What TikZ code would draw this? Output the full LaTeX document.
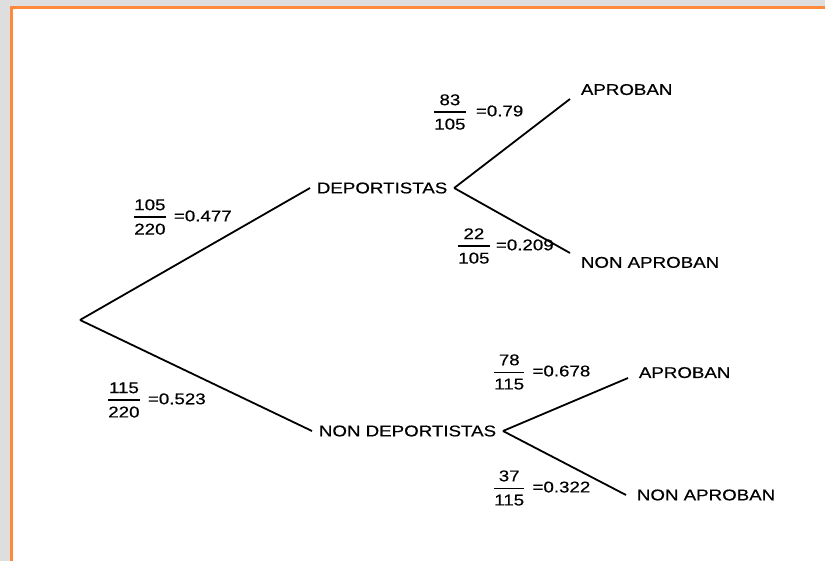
\documentclass[tikz,border=0pt]{standalone}
\usepackage{amsmath}
\usepackage{fontspec}
\setmainfont[FakeStretch=1.2, FakeBold=0.4]{Liberation Sans}
\usepackage{tikz}
\definecolor{framegray}{RGB}{222,222,222}
\definecolor{frameorange}{RGB}{255,137,59}
\newcommand{\pfrac}[2]{$\genfrac{}{}{0.9pt}{0}{\text{#1}}{\text{#2}}$}

\begin{document}
\begin{tikzpicture}[x=0.5pt, y=-0.5pt, line width=0.9pt,
  font=\fontsize{7.8}{9.4}\selectfont,
  cat/.style={inner xsep=3pt, inner ysep=2pt},
  leaf/.style={inner xsep=5pt, inner ysep=1.5pt},
  prob/.style={inner sep=0pt, anchor=west}]
\clip (0,0) rectangle (825,561);
\fill[framegray] (0,0) rectangle (825,561);
\draw[frameorange, line width=1.5pt, fill=white] (11.5,7.5) rectangle (840,580);

\coordinate (Root) at (80,320);
\node[cat, anchor=west] (Dep) at (310,188) {DEPORTISTAS};
\node[cat, anchor=west] (NonDep) at (312,431) {NON DEPORTISTAS};

\node[leaf, anchor=south west] (DepAprob) at (570,99) {APROBAN};
\node[leaf, anchor=north west] (DepNonAprob) at (570,253) {NON APROBAN};
\node[leaf, anchor=base west] (NonDepAprob) at (628,378) {APROBAN};
\node[leaf, anchor=west] (NonDepNonAprob) at (626,495) {NON APROBAN};

\draw (Root) -- (Dep.west);
\draw (Root) -- (NonDep.west);
\draw (Dep.east) -- (DepAprob.south west);
\draw (Dep.east) -- (DepNonAprob.north west);
\draw (NonDep.east) -- (NonDepAprob.base west);
\draw (NonDep.east) -- (NonDepNonAprob.west);

% probabilities
\node[prob] (PDep) at (131,217) {\pfrac{105}{220}\hspace{3pt}=0.477};
\node[prob] (PNonDep) at (105,400) {\pfrac{115}{220}\hspace{3pt}=0.523};
\node[prob] (PDepAprob) at (431,112) {\pfrac{83}{105}\hspace{4pt}=0.79};
\node[prob] (PDepNon) at (455,246) {\pfrac{22}{105}\hspace{2pt}=0.209};
\node[prob] (PNonDepAprob) at (491,372) {\pfrac{78}{115}\hspace{3pt}=0.678};
\node[prob] (PNonDepNon) at (491,488) {\pfrac{37}{115}\hspace{3pt}=0.322};
\end{tikzpicture}
\end{document}
